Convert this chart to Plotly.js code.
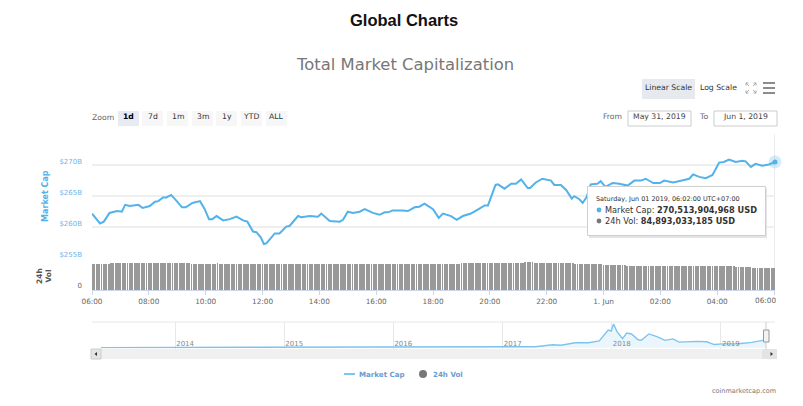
<!DOCTYPE html>
<html>
<head>
<meta charset="utf-8">
<script src="https://cdn.plot.ly/plotly-3.0.1.min.js"></script>
<style>html,body{margin:0;padding:0;background:#fff}#c{width:803px;height:406px}</style>
</head>
<body>
<div id="c"></div>
<script>
// Minutes after 31 May 2019 06:00
var capMinutes = [0,8,17,25,37,53,63,70,80,98,107,122,133,140,150,157,167,179,190,198,212,228,238,247,254,263,277,291,305,319,328,340,347,356,363,368,379,386,396,410,417,435,442,460,477,484,502,523,530,540,551,565,576,593,607,618,625,635,656,667,681,691,702,720,732,741,758,770,783,800,818,829,836,852,857,871,885,895,906,920,925,937,951,969,976,990,1001,1013,1018,1029,1036,1044,1053,1067,1074,1084,1099,1113,1131,1145,1159,1169,1185,1199,1208,1227,1250,1261,1269,1282,1296,1310,1324,1334,1345,1359,1373,1380,1391,1401,1415,1429,1442];
// Total market cap, billions of USD
var capValues = [262.2,261.5,260.6,260.9,262.3,262.6,262.5,263.6,263.4,263.6,263.1,263.4,264.1,264.2,264.8,264.8,265.2,264.2,263.2,263.2,263.9,264.2,262.9,261.3,261.3,261.8,261.1,261.3,261.7,261.1,260.9,259.3,259.2,258.4,257.3,257.4,258.3,259.0,259.0,260.1,260.2,261.8,261.6,261.8,261.7,262.2,261.0,260.9,261.2,262.5,262.3,262.5,262.9,262.3,262.0,262.4,262.4,262.7,262.7,262.6,263.2,263.3,263.8,262.9,261.5,262.2,261.8,261.2,261.8,262.2,263.0,263.5,263.5,266.8,266.9,266.2,267.0,267.0,267.7,266.3,266.3,267.2,267.8,267.5,266.8,266.8,266.0,264.6,265.0,264.5,263.9,264.8,266.9,267.0,267.4,266.5,267.1,267.0,266.7,267.5,267.5,267.8,267.1,267.1,267.5,267.2,267.6,267.8,268.5,268.1,267.9,268.4,270.4,270.5,270.9,270.5,270.7,270.6,269.7,270.2,269.9,270.1,270.51];
// 24h volume, billions of USD, one bar every five minutes from 06:00
var volumeValues = [
101.6,101.5,101.4,101.6,101.7,101.5,101.4,101.6,105.1,105.3,105.2,105.0,
105.2,105.4,105.1,105.0,105.3,105.2,105.4,105.3,105.1,105.2,105.4,105.3,
105.5,105.4,105.2,105.3,105.5,105.4,105.3,105.2,105.4,105.5,105.3,105.4,
105.2,105.3,105.4,105.5,105.3,105.2,103.2,102.8,102.5,102.4,102.3,102.4,
102.2,102.3,102.1,102.2,102.3,104.5,102.4,102.1,102.0,101.9,102.1,102.0,
101.9,102.0,101.8,101.9,102.0,101.9,101.8,101.7,100.9,101.2,100.7,101.0,
100.8,100.6,100.5,100.7,100.6,100.5,100.4,100.6,100.5,100.4,100.6,100.5,
101.6,101.7,101.5,101.6,101.8,101.7,101.6,101.5,101.4,101.6,101.7,101.8,
101.7,101.5,101.6,101.4,101.3,101.2,101.4,101.3,101.5,101.4,101.6,101.5,
101.7,101.6,101.8,101.7,101.5,101.6,101.7,101.6,101.8,101.7,101.6,101.5,
101.3,101.4,101.6,101.5,101.7,101.8,101.6,101.7,101.6,101.8,101.7,101.6,
101.7,101.8,101.6,101.5,101.6,101.7,101.8,101.7,101.6,101.7,101.8,101.7,
101.8,101.7,101.6,101.8,101.7,101.9,101.8,101.7,101.8,101.9,101.8,101.7,
105.4,105.6,105.7,105.5,105.6,105.8,105.6,105.7,105.8,105.6,105.7,105.8,
105.7,105.9,105.8,105.7,105.9,106.0,105.8,105.9,105.8,105.7,105.9,106.0,
105.2,105.4,105.3,107.8,108.0,108.1,107.9,105.6,105.3,105.1,105.0,105.1,
104.9,104.8,104.9,104.7,104.8,104.6,104.7,104.5,104.6,104.4,104.5,104.3,
100.8,100.7,100.6,100.7,100.5,100.6,100.5,100.4,100.5,100.4,100.3,100.4,
97.9,97.8,97.9,97.8,97.7,97.8,97.7,97.8,97.9,97.8,94.2,94.1,
94.0,94.1,93.9,94.0,93.9,93.8,93.9,94.0,93.9,93.8,93.9,93.8,
93.9,93.8,93.9,93.7,93.8,93.9,93.8,93.7,93.8,93.9,93.8,93.7,
93.8,93.7,93.8,93.9,93.8,93.7,93.6,93.7,92.8,92.7,92.8,92.6,
92.7,92.6,92.7,92.5,92.6,92.7,92.6,92.5,91.2,91.1,91.0,91.1,
91.0,91.1,90.9,87.6,87.5,87.4,87.3,87.2,87.0,86.8,86.6,86.4,
86.2,86.0,85.8,85.6,85.5,85.3,85.2,85.1,85.0,84.9,84.9,84.9,84.89];
// Navigator history of total market cap, billions of USD
var historyDates = ["2013-04-28","2013-10-01","2013-12-01","2014-01-01","2014-06-01","2015-01-01","2016-01-01","2016-07-01","2017-01-01","2017-04-20","2017-06-17","2017-07-15","2017-09-01","2017-10-15","2017-11-20","2017-12-08","2017-12-20","2017-12-30","2018-01-07","2018-01-18","2018-02-06","2018-02-20","2018-03-08","2018-03-30","2018-04-10","2018-05-05","2018-06-01","2018-06-28","2018-07-25","2018-08-14","2018-09-10","2018-10-15","2018-11-15","2018-12-10","2019-01-10","2019-03-01","2019-04-15","2019-05-15","2019-06-01"];
var historyValues = [1.6,2,14,10,8,5,7,11,18,30,100,80,165,170,230,450,600,570,813,560,310,500,470,270,250,470,380,250,300,190,210,215,200,105,130,135,180,240,270];
var xTickVals = ["2019-05-31 06:00","2019-05-31 08:00","2019-05-31 10:00","2019-05-31 12:00","2019-05-31 14:00","2019-05-31 16:00","2019-05-31 18:00","2019-05-31 20:00","2019-05-31 22:00","2019-06-01 00:00","2019-06-01 02:00","2019-06-01 04:00","2019-06-01 06:00"];
var xTickText = ["06:00","08:00","10:00","12:00","14:00","16:00","18:00","20:00","22:00","1. Jun","02:00","04:00",""];
var yTickVals = [255,260,265,270,275];
var yTickText = ["$255B","$260B","$265B","$270B",""];
var yearVals = ["2014-01-01","2015-01-01","2016-01-01","2017-01-01","2018-01-01","2019-01-01"];
var yearText = ["2014","2015","2016","2017","2018","2019"];
var zoomLabels = ["1d","7d","1m","3m","1y","YTD","ALL"];

function minuteToDate(m){return new Date(Date.UTC(2019,4,31,6,m)).toISOString().slice(0,16).replace('T',' ');}
var capX = capMinutes.map(minuteToDate);
var volX = volumeValues.map(function(v,i){return minuteToDate(i*5);});
var lastX = capX[capX.length-1], lastY = capValues[capValues.length-1];

var F = 'DejaVu Sans';
var BLUE = '#52b2ea', GRID = '#efefef';
function px(x){return x/803;}
function py(y){return 1-y/406;}

var traces = [
 {type:'bar',x:volX,y:volumeValues,xaxis:'x',yaxis:'y2',width:240000,marker:{color:'#999999',line:{width:0}},hoverinfo:'skip',name:'24h Vol'},
 {type:'scatter',mode:'lines',x:capX,y:capValues,xaxis:'x',yaxis:'y',line:{color:BLUE,width:2},hoverinfo:'skip',name:'Market Cap'},
 {type:'scatter',mode:'markers',x:[lastX],y:[lastY],xaxis:'x',yaxis:'y',marker:{color:BLUE,size:13,opacity:0.25},hoverinfo:'skip',cliponaxis:false,showlegend:false},
 {type:'scatter',mode:'markers',x:[lastX],y:[lastY],xaxis:'x',yaxis:'y',marker:{color:BLUE,size:5},hoverinfo:'skip',cliponaxis:false,showlegend:false},
 {type:'scatter',mode:'lines',x:historyDates,y:historyValues,xaxis:'x3',yaxis:'y3',line:{color:'#7cc4ee',width:1.4},fill:'tozeroy',fillcolor:'#ebf6fc',hoverinfo:'skip',name:'History',showlegend:false}
];

var shapes = [], annotations = [];
function rect(x0,y0,x1,y1,fill,line,r){
  shapes.push({type:'rect',xref:'paper',yref:'paper',x0:px(x0),x1:px(x1),y0:py(y1),y1:py(y0),fillcolor:fill,line:{color:line||fill,width:line?1:0}});
}
function seg(x0,y0,x1,y1,color,w){
  shapes.push({type:'line',xref:'paper',yref:'paper',x0:px(x0),x1:px(x1),y0:py(y0),y1:py(y1),line:{color:color,width:w||1}});
}
function text(x,y,t,size,color,anchor,extra){
  var a = {xref:'paper',yref:'paper',x:px(x),y:py(y),text:t,showarrow:false,xanchor:anchor||'center',yanchor:'middle',font:{family:F,size:size,color:color},borderpad:0,borderwidth:0};
  if(extra) Object.assign(a,extra);
  annotations.push(a);
}

// Titles
text(404,20,'<b>Global Charts</b>',16.5,'#111111','center',{font:{family:'Liberation Sans',size:16.5,color:'#111111'}});
text(404.5,64,'Total Market Capitalization',16.4,'#777777');

// Scale buttons and menu
rect(642,79,695,99,'#e6e9ee');
text(668.5,87,'Linear Scale',7.7,'#333333');
text(718,87,'Log Scale',7.7,'#333333');
[[746,83,749,86],[756,83,753,86],[746,93,749,90],[756,93,753,90],[746,83,748.5,83],[746,83,746,85.5],[756,83,753.5,83],[756,83,756,85.5],[746,93,748.5,93],[746,93,746,90.5],[756,93,753.5,93],[756,93,756,90.5]].forEach(function(s){seg(s[0],s[1],s[2],s[3],'#999999',0.8);});
[83,88,93].forEach(function(y){seg(763,y,775,y,'#666666',1.5);});

// Zoom buttons
text(92,118,'Zoom',7.7,'#666666','left');
var btnX = [118,142,167,192,216,241,266];
zoomLabels.forEach(function(l,i){
  rect(btnX[i],111,btnX[i]+21,126,i===0?'#e6ebf5':'#f7f7f7');
  text(btnX[i]+10.5,117,i===0?'<b>'+l+'</b>':l,7.7,i===0?'#000000':'#333333');
});

// Date range inputs
text(612,117,'From',7.7,'#666666');
rect(628,111,691,126,'#ffffff','#cccccc');
text(659.5,117,'May 31, 2019',7.7,'#444444');
text(703,117,'To',7.7,'#666666');
rect(714,111,777,126,'#ffffff','#cccccc');
text(745,117,'Jun 1, 2019',7.7,'#444444');

// Crosshair
shapes.push({type:'line',xref:'x',yref:'paper',x0:lastX,x1:lastX,y0:py(290),y1:py(134),line:{color:'#d4d8e0',width:1},layer:'below'});

// Tooltip
rect(589,188,767,238,'#e4e4e4');
rect(587.5,186.5,765.5,235.5,'#ffffff','#cfcfcf');
text(596,199,'Saturday, Jun 01 2019, 06:02:00 UTC+07:00',6.45,'#333333','left');
text(605,210,'Market Cap: <b>270,513,904,968 USD</b>',8.2,'#333333','left');
text(605,221,'24h Vol: <b>84,893,033,185 USD</b>',8.2,'#333333','left');
function dot(x,y,r,c){shapes.push({type:'circle',xref:'paper',yref:'paper',x0:px(x-r),x1:px(x+r),y0:py(y+r),y1:py(y-r),fillcolor:c,line:{width:0}});}
dot(599,210,2.4,BLUE);
dot(599,221,2.4,'#777777');

// Last x label, pushed inside the plot edge
text(765,300,'06:00',7.3,'#666666');

// Navigator frame and scrollbar
seg(92,322,775,322,'#e6e6e6',1);
rect(91,349,777,359,'#f0f0f0');
rect(91,349,101,359,'#e4e4e4','#cccccc');
rect(762,349,777,359,'#e4e4e4');
shapes.push({type:'path',xref:'paper',yref:'paper',path:'M '+px(94.5)+' '+py(354)+' L '+px(97)+' '+py(352)+' L '+px(97)+' '+py(356)+' Z',fillcolor:'#333333',line:{width:0}});
shapes.push({type:'path',xref:'paper',yref:'paper',path:'M '+px(773)+' '+py(354)+' L '+px(770.5)+' '+py(352)+' L '+px(770.5)+' '+py(356)+' Z',fillcolor:'#333333',line:{width:0}});
seg(766,322,766,349,'#cccccc',1);
rect(763.5,330,769,342,'#f2f2f2','#999999');

// Legend
seg(344,374,355,374,BLUE,1.5);
text(359,374,'<b>Market Cap</b>',7.1,'#6a9bd2','left');
dot(423,374,4,'#777777');
text(433,374,'<b>24h Vol</b>',7.1,'#6a9bd2','left');

// Credit
text(776,391,'coinmarketcap.com',6.5,'#777777','right');

var layout = {
  width:803,height:406,margin:{l:0,r:0,t:0,b:0},paper_bgcolor:'#ffffff',plot_bgcolor:'rgba(0,0,0,0)',
  showlegend:false,bargap:0,hovermode:false,dragmode:false,
  font:{family:F,size:7.3,color:'#666666'},
  xaxis:{type:'date',domain:[px(92),px(775)],anchor:'y2',range:['2019-05-31 06:00','2019-06-01 06:02'],
    tickmode:'array',tickvals:xTickVals,ticktext:xTickText,ticks:'outside',ticklen:4,tickcolor:'#ccd6eb',tickwidth:1,
    showline:true,linecolor:'#ccd6eb',linewidth:1,showgrid:false,zeroline:false,tickfont:{family:F,size:7.3,color:'#666666'},tickangle:0},
  yaxis:{domain:[py(258.3),py(134)],anchor:'x',range:[255,275],tickmode:'array',tickvals:yTickVals,ticktext:yTickText,
    showgrid:true,gridcolor:GRID,gridwidth:1.5,zeroline:false,ticks:'',ticklabelshift:-4,ticklabelstandoff:9,tickfont:{family:F,size:7,color:'#6fb4ea'},
    title:{text:'<b>Market Cap</b>',font:{family:F,size:8,color:BLUE},standoff:9}},
  yaxis2:{domain:[py(290),py(262)],anchor:'x',range:[0,109.5],tickmode:'array',tickvals:[0],ticktext:['0'],
    showgrid:false,zeroline:false,ticks:'',ticklabelshift:-4,ticklabelstandoff:9,tickfont:{family:F,size:7,color:'#666666'},
    title:{text:'<b>24h<br>Vol</b>',font:{family:F,size:7.5,color:'#555555'},standoff:24}},
  xaxis3:{type:'date',domain:[px(101),px(766)],anchor:'y3',range:['2013-04-28','2019-06-01'],
    tickmode:'array',tickvals:yearVals,ticktext:yearText,ticklabelposition:'inside',ticklabelshift:10,ticklabelstandoff:-2,ticks:'',showgrid:true,gridcolor:'#e8e8e8',gridwidth:1,
    zeroline:false,showline:false,tickfont:{family:F,size:7,color:'#888888'}},
  yaxis3:{domain:[py(348.5),py(322)],anchor:'x3',range:[-30,880],showticklabels:false,showgrid:false,zeroline:false,ticks:''},
  shapes:shapes,annotations:annotations
};
Plotly.newPlot('c',traces,layout,{displayModeBar:false,staticPlot:true});
</script>
</body>
</html>
